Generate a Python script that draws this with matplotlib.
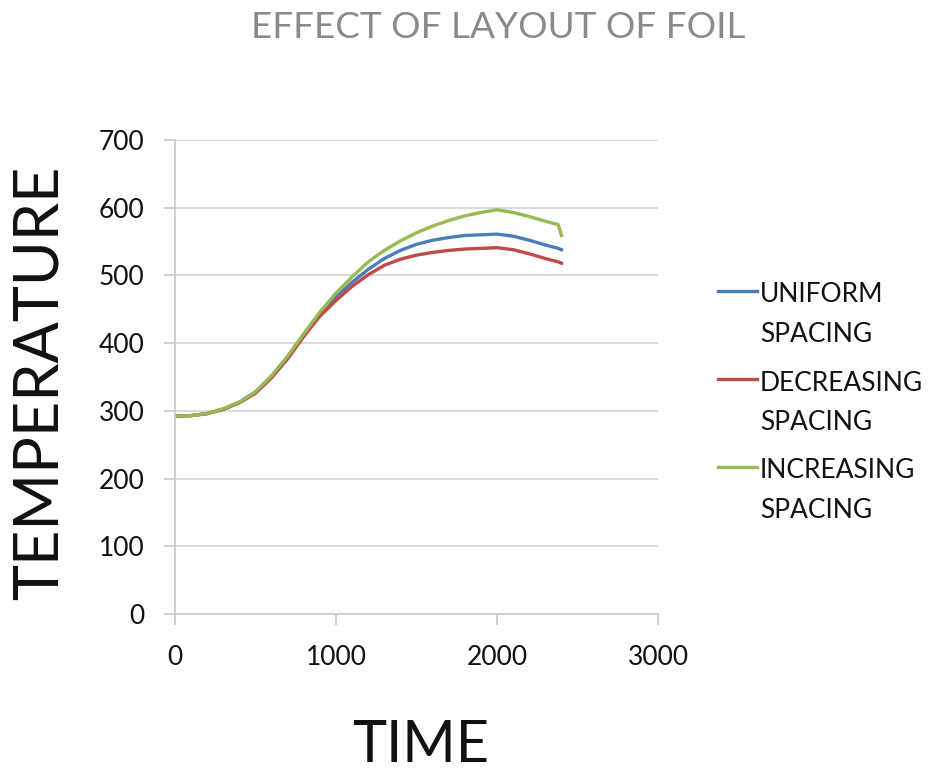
import matplotlib.pyplot as plt
from matplotlib.lines import Line2D

plt.rcParams['font.family'] = ['Lato', 'DejaVu Sans']

time = [0, 100, 200, 300, 400, 500, 600, 700, 800, 900, 1000, 1100, 1200,
        1300, 1400, 1500, 1600, 1700, 1800, 1900, 2000, 2100, 2200, 2300,
        2380, 2400]

uniform = [292, 293, 296, 303, 313, 328, 351, 380, 413, 444, 468, 490, 509,
           525, 537, 546, 552, 556, 559, 560, 561, 558, 552, 545, 540, 538]
decreasing = [292, 293, 296, 302, 312, 326, 349, 377, 410, 440, 463, 484, 501,
              515, 524, 530, 534, 537, 539, 540, 541, 538, 532, 525, 520, 518]
increasing = [292, 293, 296, 303, 313, 328, 352, 381, 414, 446, 474, 498, 520,
              537, 551, 563, 573, 581, 588, 593, 597, 593, 587, 580, 575, 559]

labels = [('UNIFORM', 'SPACING'), ('DECREASING', 'SPACING'),
          ('INCREASING', 'SPACING')]
colors = ['#4a7ebb', '#be4b48', '#98b954']

W, H = 933, 774
fig = plt.figure(figsize=(W / 100, H / 100), dpi=100)
ax = fig.add_axes([0.1876, 0.2067, 0.5177, 0.6124])

for series, col in zip([uniform, decreasing, increasing], colors):
    ax.plot(time, series, color=col, lw=2.4, solid_joinstyle='round')

ax.set_xlim(0, 3000)
ax.set_ylim(0, 700)
ax.set_xticks([0, 1000, 2000, 3000])
ax.set_yticks(range(0, 701, 100))
ax.grid(axis='y', color='#d4d4d4', lw=1.2)
ax.set_axisbelow(True)

for side in ['top', 'right']:
    ax.spines[side].set_visible(False)
for side in ['left', 'bottom']:
    ax.spines[side].set_color('#c8c8c8')
    ax.spines[side].set_linewidth(1.2)

ax.tick_params(axis='both', colors='#c8c8c8', labelcolor='#111111',
               labelsize=19, length=8, width=1.2)
ax.tick_params(axis='y', pad=14)
ax.tick_params(axis='x', pad=14)

fig.text(0.534, 1 - 27.5 / H, 'EFFECT OF LAYOUT OF FOIL', ha='center',
         va='center', fontsize=26.6, color='#8a8a8a')
fig.text(0.043, 0.506, 'TEMPERATURE', rotation=90, ha='center', va='center',
         fontsize=44, color='#111111')
fig.text(421 / W, 12 / H, 'TIME', ha='center', va='baseline',
         fontsize=41.5, color='#111111')

# legend drawn by hand: key line beside the first line of each label
for i, ((first, second), col) in enumerate(zip(labels, colors)):
    y = 291 + 88 * i
    fig.add_artist(Line2D([718 / W, 757 / W], [1 - y / H, 1 - y / H],
                          color=col, lw=2.4, transform=fig.transFigure))
    fig.text(760 / W, 1 - (y + 4) / H, first, va='center', fontsize=19,
             color='#111111')
    fig.text(760 / W, 1 - (y + 44) / H, second, va='center', fontsize=19,
             color='#111111')

fig.savefig('out.png', dpi=100)
